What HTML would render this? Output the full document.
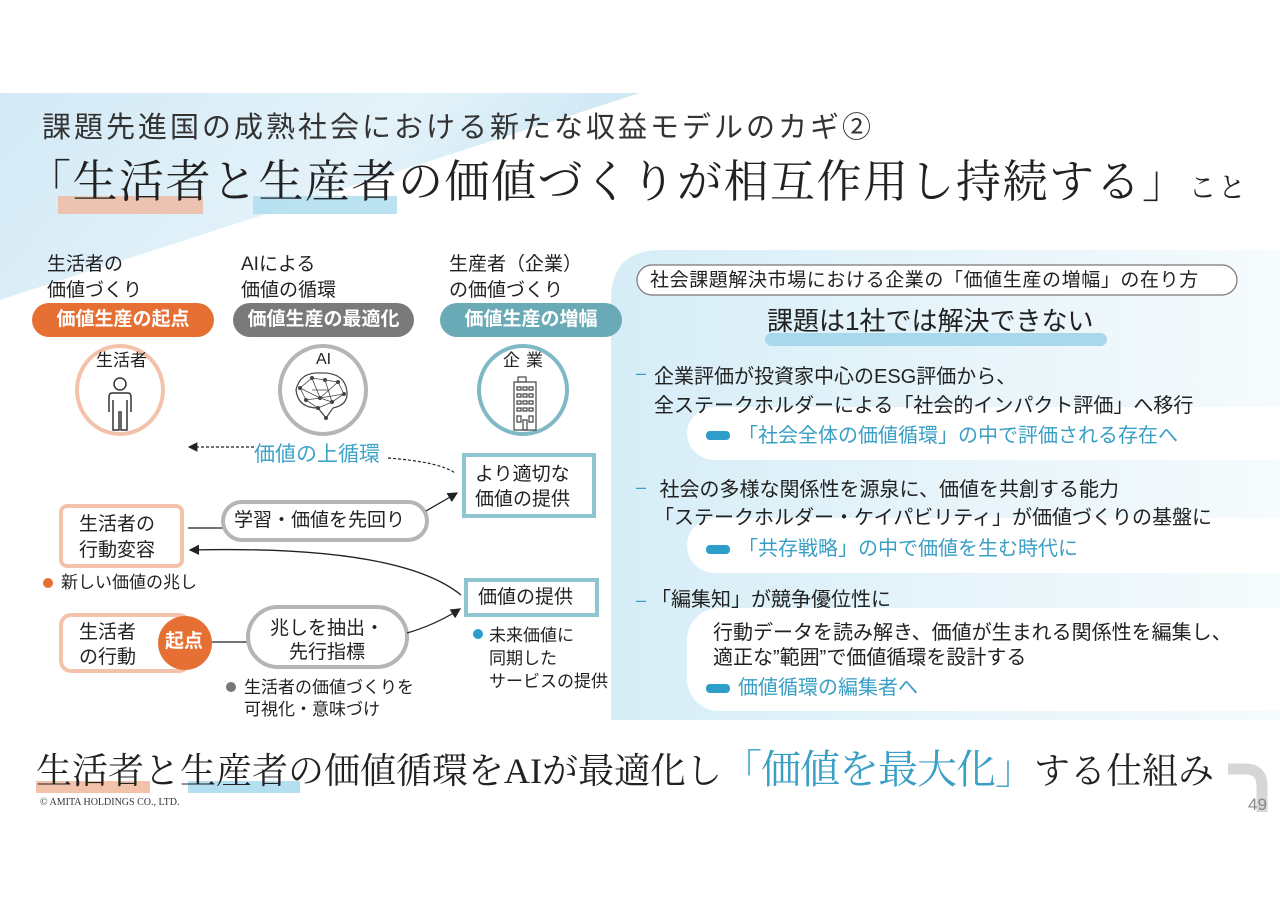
<!DOCTYPE html>
<html><head><meta charset="utf-8">
<style>
html,body{margin:0;padding:0;background:#fff;}
body{width:1280px;height:905px;position:relative;overflow:hidden;font-family:"Liberation Sans","Noto Sans CJK JP",sans-serif;color:#222;}
.a{position:absolute;white-space:nowrap;line-height:1;}
.serif{font-family:"Liberation Serif","Noto Serif CJK JP",serif;}
.pill{position:absolute;color:#fff;font-weight:bold;font-size:19px;text-align:center;line-height:34px;height:34px;border-radius:17px;}
.t{font-size:19px;}
.bl{color:#3a9fc4;}
</style></head><body>
<svg class="a" style="left:0;top:0" width="1280" height="905">
<defs>
<linearGradient id="tri" x1="0" y1="0" x2="1" y2="0.3"><stop offset="0" stop-color="#d3eaf6"/><stop offset="0.6" stop-color="#e4f2f9"/><stop offset="1" stop-color="#c9e6f4"/></linearGradient>
<linearGradient id="pan" x1="0" y1="0" x2="1" y2="0"><stop offset="0" stop-color="#d6edf7"/><stop offset="1" stop-color="#f6fbfd"/></linearGradient>
<marker id="ar" markerWidth="8" markerHeight="8" refX="7" refY="4" orient="auto"><path d="M0,0 L8,4 L0,8 z" fill="#222"/></marker>
</defs>
<polygon points="0,93 640,93 0,300" fill="url(#tri)"/>
<path d="M611,720 L611,300 Q611,250 661,250 L1280,250 L1280,720 Z" fill="url(#pan)"/>
<rect x="687" y="407" width="640" height="53" rx="28" fill="#fff"/>
<rect x="687" y="518" width="640" height="55" rx="28" fill="#fff"/>
<rect x="687" y="608" width="640" height="103" rx="32" fill="#fff"/>
<rect x="637" y="265" width="600" height="30" rx="15" fill="#fff" stroke="#777" stroke-width="1.2"/>
<rect x="765" y="333" width="342" height="13" rx="6.5" fill="#a9d8ea"/>
<rect x="706" y="431" width="24" height="9" rx="4" fill="#2d9dc9"/>
<rect x="706" y="545" width="24" height="9" rx="4" fill="#2d9dc9"/>
<rect x="706" y="684" width="24" height="9" rx="4" fill="#2d9dc9"/>
<rect x="58" y="196" width="145" height="18" fill="#eebba3" opacity="0.85"/>
<rect x="253" y="196" width="144" height="18" fill="#b3dff0" opacity="0.9"/>
<rect x="36" y="781" width="114" height="12" fill="#f3c2aa"/>
<rect x="188" y="781" width="112" height="12" fill="#b3dff0"/>
<ellipse cx="120" cy="390" rx="43" ry="44" fill="#fff" stroke="#f3c2aa" stroke-width="4"/>
<ellipse cx="323" cy="390" rx="43" ry="44" fill="#fff" stroke="#b5b5b5" stroke-width="4"/>
<ellipse cx="523" cy="390" rx="44" ry="44" fill="#fff" stroke="#7fb9c5" stroke-width="4"/>
<g fill="none" stroke="#333" stroke-width="1.5">
<circle cx="120" cy="384" r="6"/>
<path d="M112,393 L128,393 Q131,393 131,397 L131,412 M112,393 Q109,393 109,397 L109,412 M113,400 L113,430 L119,430 L119,412 L121,412 L121,430 L127,430 L127,400"/>
</g>
<g stroke="#444" stroke-width="0.8" fill="#444">
<path d="M296,390 Q300,372 320,373 Q345,372 347,392 Q348,405 333,408 L326,418 L318,408 Q298,408 296,390 Z" fill="none" stroke-width="1.2"/>
<path d="M300,388 L312,378 L325,380 L338,382 L344,394 L332,402 L320,398 L306,400 L300,388 M312,378 L320,398 L338,382 M306,400 L318,408 L326,418 M325,380 L332,402 L318,408 M300,388 L320,398 L344,394 M312,390 L330,390" fill="none"/>
<circle cx="300" cy="388" r="1.6"/><circle cx="312" cy="378" r="1.6"/><circle cx="325" cy="380" r="1.6"/><circle cx="338" cy="382" r="1.6"/><circle cx="344" cy="394" r="1.6"/><circle cx="332" cy="402" r="1.6"/><circle cx="320" cy="398" r="1.6"/><circle cx="306" cy="400" r="1.6"/><circle cx="318" cy="408" r="1.6"/><circle cx="326" cy="418" r="1.6"/>
</g>
<g fill="none" stroke="#444" stroke-width="1.2">
<rect x="514" y="382" width="22" height="48"/><rect x="518" y="377" width="8" height="5"/>
<path d="M517,387h4v3h-4zM523,387h4v3h-4zM529,387h4v3h-4zM517,394h4v3h-4zM523,394h4v3h-4zM529,394h4v3h-4zM517,401h4v3h-4zM523,401h4v3h-4zM529,401h4v3h-4zM517,408h4v3h-4zM523,408h4v3h-4zM529,408h4v3h-4zM517,416h4v6h-4zM529,416h4v6h-4zM523,420h4v10h-4z"/>
</g>
<path d="M254,447 L189,447" stroke="#222" stroke-width="1.2" stroke-dasharray="3,2" fill="none" marker-end="url(#ar)"/>
<path d="M388,458 Q440,462 455,473" stroke="#222" stroke-width="1.2" stroke-dasharray="3,2" fill="none"/>
<rect x="464" y="455" width="130" height="61" fill="#fff" stroke="#8fc5cf" stroke-width="4"/>
<rect x="61" y="506" width="121" height="60" rx="6" fill="#fff" stroke="#f3c2aa" stroke-width="4"/>
<line x1="188" y1="528" x2="223" y2="528" stroke="#222" stroke-width="1.3"/>
<rect x="223" y="502" width="204" height="38" rx="19" fill="#fff" stroke="#b5b5b5" stroke-width="4"/>
<path d="M426,511 L457,493" stroke="#222" stroke-width="1.3" fill="none" marker-end="url(#ar)"/>
<path d="M461,595 Q400,545 190,550" stroke="#222" stroke-width="1.3" fill="none" marker-end="url(#ar)"/>
<rect x="466" y="580" width="131" height="35" fill="#fff" stroke="#8fc5cf" stroke-width="4"/>
<rect x="61" y="615" width="128" height="56" rx="10" fill="#fff" stroke="#f3c2aa" stroke-width="4"/>
<circle cx="185" cy="643" r="27" fill="#e66f33"/>
<line x1="212" y1="642" x2="248" y2="642" stroke="#222" stroke-width="1.3"/>
<rect x="248" y="607" width="159" height="60" rx="30" fill="#fff" stroke="#b5b5b5" stroke-width="4"/>
<path d="M407,633 Q435,625 460,609" stroke="#222" stroke-width="1.3" fill="none" marker-end="url(#ar)"/>
<circle cx="48" cy="583" r="5" fill="#e66f33"/>
<circle cx="231" cy="687" r="5" fill="#777"/>
<circle cx="478" cy="634" r="5" fill="#2d9dc9"/>
<path d="M1228,769 L1245,769 Q1262,769 1262,786 L1262,812" stroke="#d6d6d6" stroke-width="11" fill="none"/>
</svg>

<div class="a" style="left:42px;top:114px;font-size:29px;letter-spacing:3px;color:#333;">課題先進国の成熟社会における新たな収益モデルのカギ②</div>
<div class="a serif" style="left:26px;top:160px;font-size:45px;letter-spacing:1.5px;color:#222;">「生活者と生産者の価値づくりが相互作用し持続する」<span style="font-size:28px;">こと</span></div>

<div class="a t" style="left:47px;top:252px;line-height:26px;">生活者の<br>価値づくり</div>
<div class="a t" style="left:241px;top:252px;line-height:26px;">AIによる<br>価値の循環</div>
<div class="a t" style="left:449px;top:252px;line-height:26px;">生産者（企業）<br>の価値づくり</div>
<div class="pill" style="left:32px;top:303px;width:182px;background:#e66f33;">価値生産の起点</div>
<div class="pill" style="left:233px;top:303px;width:181px;background:#7a7a7a;">価値生産の最適化</div>
<div class="pill" style="left:440px;top:303px;width:182px;background:#69aab6;">価値生産の増幅</div>
<div class="a" style="left:96px;top:352px;font-size:17px;">生活者</div>
<div class="a" style="left:316px;top:352px;font-size:16px;">AI</div>
<div class="a" style="left:503px;top:352px;font-size:17px;letter-spacing:6px;">企業</div>

<div class="a bl" style="left:254px;top:444px;font-size:21px;color:#3ea3c8;">価値の上循環</div>
<div class="a t" style="left:475px;top:462px;line-height:25px;">より適切な<br>価値の提供</div>
<div class="a t" style="left:79px;top:512px;line-height:26px;">生活者の<br>行動変容</div>
<div class="a t" style="left:234px;top:511px;">学習・価値を先回り</div>
<div class="a" style="left:61px;top:574px;font-size:17px;">新しい価値の兆し</div>
<div class="a t" style="left:478px;top:588px;">価値の提供</div>
<div class="a t" style="left:79px;top:620px;line-height:25px;">生活者<br>の行動</div>
<div class="a" style="left:165px;top:632px;font-size:19px;font-weight:bold;color:#fff;">起点</div>
<div class="a t" style="left:270px;top:617px;line-height:24px;text-align:center;">兆しを抽出・<br>先行指標</div>
<div class="a" style="left:244px;top:677px;font-size:17px;line-height:22px;">生活者の価値づくりを<br>可視化・意味づけ</div>
<div class="a" style="left:489px;top:624px;font-size:17px;line-height:23px;">未来価値に<br>同期した<br>サービスの提供</div>

<div class="a" style="left:650px;top:271px;font-size:19px;letter-spacing:0.6px;">社会課題解決市場における企業の「価値生産の増幅」の在り方</div>
<div class="a" style="left:767px;top:308px;font-size:26px;">課題は1社では解決できない</div>
<div class="a" style="left:636px;top:364px;font-size:18px;color:#3a9fc4;">–</div>
<div class="a" style="left:654px;top:363px;font-size:20px;line-height:29px;">企業評価が投資家中心のESG評価から、<br>全ステークホルダーによる「社会的インパクト評価」へ移行</div>
<div class="a bl" style="left:738px;top:426px;font-size:20px;">「社会全体の価値循環」の中で評価される存在へ</div>
<div class="a" style="left:636px;top:478px;font-size:18px;color:#3a9fc4;">–</div>
<div class="a" style="left:654px;top:476px;font-size:20px;line-height:28px;">&nbsp;社会の多様な関係性を源泉に、価値を共創する能力<br>「ステークホルダー・ケイパビリティ」が価値づくりの基盤に</div>
<div class="a bl" style="left:738px;top:539px;font-size:20px;">「共存戦略」の中で価値を生む時代に</div>
<div class="a" style="left:636px;top:591px;font-size:18px;color:#3a9fc4;">–</div>
<div class="a" style="left:651px;top:590px;font-size:20px;">「編集知」が競争優位性に</div>
<div class="a" style="left:713px;top:621px;font-size:20px;line-height:25px;">行動データを読み解き、価値が生まれる関係性を編集し、<br>適正な”範囲”で価値循環を設計する</div>
<div class="a bl" style="left:738px;top:678px;font-size:20px;">価値循環の編集者へ</div>

<div class="a serif" style="left:36px;top:750px;font-size:36px;color:#222;">生活者と生産者の価値循環をAIが最適化し<span style="font-size:40px;color:#3a9fc4;letter-spacing:-1px;">「価値を最大化」</span>する仕組み</div>
<div class="a serif" style="left:40px;top:798px;font-size:10px;color:#333;">© AMITA HOLDINGS CO., LTD.</div>
<div class="a" style="left:1248px;top:796px;font-size:17px;color:#888;">49</div>
</body></html>
